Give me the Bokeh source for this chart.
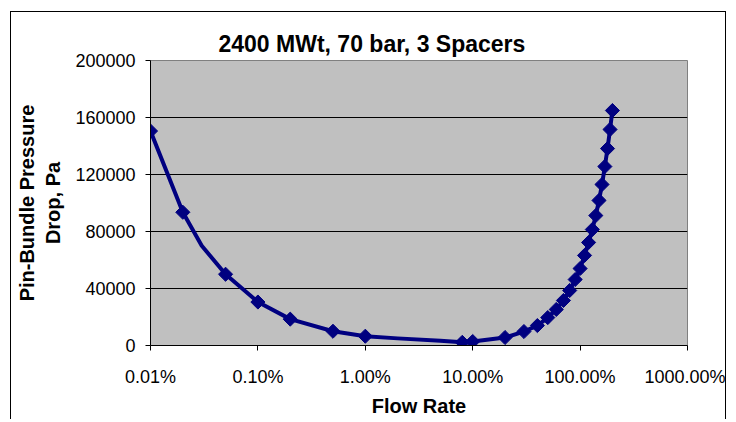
from bokeh.plotting import figure
from bokeh.models import Range1d, FixedTicker, ColumnDataSource
from bokeh.embed import file_html
from bokeh.resources import INLINE
import numpy as np

# ---- data ----
title_text = "2400 MWt, 70 bar, 3 Spacers"
x_label = "Flow Rate"
y_label = "Pin-Bundle Pressure\nDrop, Pa"

flow_pct = [0.01, 0.02, 0.03, 0.05, 0.1, 0.2, 0.5, 1, 2, 5, 8, 10, 20, 30, 40, 50,
            60, 70, 80, 90, 100, 110, 120, 130, 140, 150, 160, 170, 180, 190, 200]
dp_pa = [150500, 93500, 70000, 50000, 30500, 18500, 10000, 6500, 5000, 3400, 2200,
         2800, 5600, 9800, 14000, 19600, 25300, 31600, 38600, 46300, 54000, 63200,
         72300, 81400, 91200, 101800, 113000, 125600, 138200, 151600, 164900]
has_marker = [1, 1, 0, 1, 1, 1, 1, 1, 0, 0, 1, 1, 1, 1, 1, 1,
              1, 1, 1, 1, 1, 1, 1, 1, 1, 1, 1, 1, 1, 1, 1]

x_ticks = [0.01, 0.1, 1, 10, 100, 1000]
x_tick_labels = ["0.01%", "0.10%", "1.00%", "10.00%", "100.00%", "1000.00%"]
y_ticks = [0, 40000, 80000, 120000, 160000, 200000]
y_tick_labels = ["0", "40000", "80000", "120000", "160000", "200000"]

NAVY = "#000080"
FONT = "Liberation Sans"

p = figure(width=716, height=408, x_axis_type="log",
           x_range=Range1d(0.01, 1000), y_range=Range1d(0, 200000),
           output_backend="svg", toolbar_location=None,
           min_border_left=139, min_border_right=40,
           min_border_top=48, min_border_bottom=75,
           styles={"border-top": "1px solid black",
                   "border-left": "1px solid black",
                   "border-right": "1px solid black",
                   "margin-left": "10px",
                   "margin-top": "11px"})

p.background_fill_color = "#C0C0C0"
p.border_fill_color = "white"
p.outline_line_color = "#808080"
p.outline_line_width = 1

# title
p.title.text = title_text
p.title.align = "left"
p.title.offset = 68
p.title.text_font = FONT
p.title.text_font_size = "23px"
p.title.text_font_style = "bold"
p.title.text_color = "black"
p.title.standoff = 8

# grids
p.xgrid.visible = False
p.ygrid.ticker = FixedTicker(ticks=y_ticks)
p.ygrid.grid_line_color = "black"
p.ygrid.grid_line_width = 1

# axes
for ax in (p.xaxis[0], p.yaxis[0]):
    ax.axis_line_color = "black"
    ax.major_tick_line_color = "black"
    ax.major_tick_in = 0
    ax.major_tick_out = 5
    ax.minor_tick_line_color = None
    ax.major_label_text_font = FONT
    ax.major_label_text_color = "black"
    ax.major_label_text_font_size = "18px"
    ax.axis_label_text_font = FONT
    ax.axis_label_text_font_size = "20px"
    ax.axis_label_text_font_style = "bold"
    ax.axis_label_text_color = "black"

p.xaxis.ticker = FixedTicker(ticks=x_ticks)
p.xaxis.major_label_overrides = dict(zip(x_ticks, x_tick_labels))
p.xaxis.axis_label = x_label
p.xaxis.major_label_standoff = 16
p.xaxis.axis_label_standoff = 5

p.yaxis.ticker = FixedTicker(ticks=y_ticks)
p.yaxis.major_label_overrides = dict(zip(y_ticks, y_tick_labels))
p.yaxis.axis_label = y_label
p.yaxis.major_label_standoff = 10
p.yaxis.axis_label_standoff = 8

# data
line_src = ColumnDataSource(dict(x=flow_pct, y=dp_pa))
mx = [x for x, m in zip(flow_pct, has_marker) if m]
my = [y for y, m in zip(dp_pa, has_marker) if m]
mark_src = ColumnDataSource(dict(x=mx, y=my))

p.line("x", "y", source=line_src, line_color=NAVY, line_width=4, line_join="round")
p.scatter("x", "y", source=mark_src, marker="square", size=10, angle=np.pi / 4,
          fill_color=NAVY, line_color=NAVY, line_width=1)

open("out.html", "w").write(file_html(p, INLINE))
